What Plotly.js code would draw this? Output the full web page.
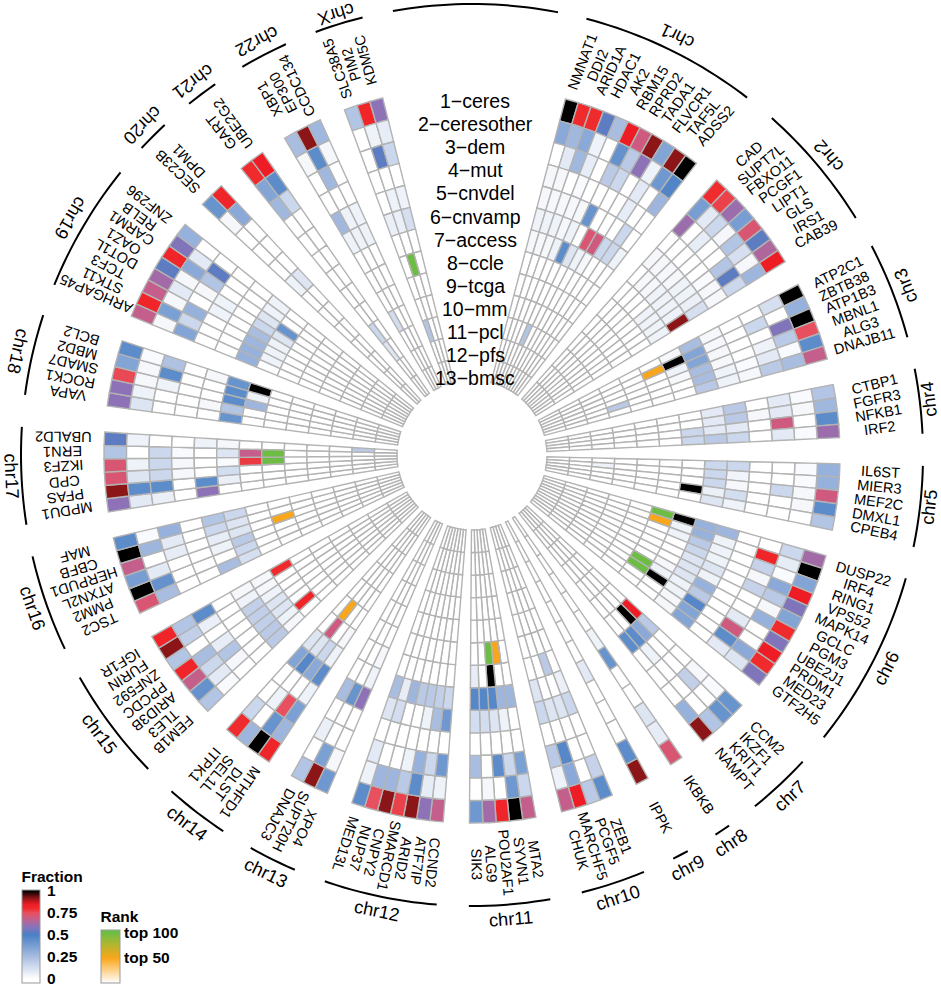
<!DOCTYPE html>
<html><head><meta charset="utf-8">
<script src="https://cdn.plot.ly/plotly-3.0.1.min.js"></script>
<style>html,body{margin:0;padding:0;background:#fff}</style></head>
<body><div id="chart" style="width:941px;height:987px"></div>
<script>
const trackNames = ["1\u2212ceres","2\u2212ceresother","3\u2212dem","4\u2212mut","5\u2212cnvdel","6\u2212cnvamp","7\u2212access","8\u2212ccle","9\u2212tcga","10\u2212mm","11\u2212pcl","12\u2212pfs","13\u2212bmsc"];
const chrNames = ["chr1","chr2","chr3","chr4","chr5","chr6","chr7","chr8","chr9","chr10","chr11","chr12","chr13","chr14","chr15","chr16","chr17","chr18","chr19","chr20","chr21","chr22","chrX"];
const chrGenes = [
["NMNAT1","DDI2","ARID1A","HDAC1","AK2","RBM15","RPRD2","TADA1","FLVCR1","TAF5L","ADSS2"],
["CAD","SUPT7L","FBXO11","PCGF1","LIPT1","GLS","IRS1","CAB39"],
["ATP2C1","ZBTB38","ATP1B3","MBNL1","ALG3","DNAJB11"],
["CTBP1","FGFR3","NFKB1","IRF2"],
["IL6ST","MIER3","MEF2C","DMXL1","CPEB4"],
["DUSP22","IRF4","RING1","VPS52","MAPK14","GCLC","PGM3","UBE2J1","PRDM1","MED23","GTF2H5"],
["CCM2","IKZF1","KRIT1","NAMPT"],["IKBKB"],["IPPK"],
["ZEB1","PCGF5","MARCHF5","CHUK"],
["MTA2","SYVN1","POU2AF1","ALG9","SIK3"],
["CCND2","ATF7IP","ARID2","SMARCD1","CNPY2","NUP37","MED13L"],
["XPO4","SUPT20H","DNAJC3"],
["MTHFD1","DLST","SEL1L","ITPK1"],
["FEM1B","TLE3","ARID3B","PPCDC","ZNF592","FURIN","IGF1R"],
["TSC2","PMM2","ATXN2L","HERPUD1","CBFB","MAF"],
["MPDU1","PFAS","CPD","IKZF3","ERN1","UBALD2"],
["VAPA","ROCK1","SMAD7","MBD2","BCL2"],
["ARHGAP45","STK11","TCF3","DOT1L","OAZ1","CARM1","RELB","ZNF296"],
["SEC23B","DPM1"],["GART","UBE2G2"],["XBP1","EP300","CCDC134"],["SLC38A5","PIM2","KDM5C"]];
// one line per gene, tracks 1..13, in gene order
const fraction = [
[1,.33,0,.03,.03,.05,.03,0,0,0,0,0,0],[.8,.27,.08,.03,.03,.05,.03,0,0,0,0,0,0],[.8,.33,.27,0,.03,.05,.03,0,0,0,0,0,0],[.53,.05,.07,.02,.03,.03,.05,0,0,0,0,0,0],[.25,0,0,0,.03,.05,.45,0,0,0,.22,0,0],[.85,.43,.2,0,.42,0,.1,0,0,0,0,0,0],[.7,.2,.15,0,0,.72,.05,0,0,0,0,0,0],[.92,.6,0,0,0,.7,.03,0,0,0,0,0,0],[.35,.05,.08,.07,0,.15,0,0,0,0,0,0,0],[.92,.4,0,0,.15,.15,0,0,0,0,0,0,0],[1,.48,.28,0,0,.05,0,0,0,0,0,0,0],
[.8,.38,.62,0,.03,0,0,0,0,0,0,0,0],[.77,.08,0,0,.03,.03,0,0,0,0,0,0,0],[.62,.15,.07,0,.03,.03,0,0,0,0,0,0,0],[.38,.03,0,0,.03,.05,0,0,0,0,0,0,0],[.72,.22,0,0,.05,.05,.05,0,0,0,0,0,0],[.53,.12,.22,.02,.05,.05,.05,0,0,0,0,0,0],[.65,.03,.53,.03,.06,.05,.05,0,0,0,0,0,0],[.85,.28,.15,.03,.12,.92,.05,0,0,0,0,0,0],
[1,.12,0,0,.03,.25,.03,0,0,0,0,0,0],[.3,0,.15,0,.03,.35,1,0,0,0,0,0,0],[1,.58,0,0,.03,.35,.05,0,0,0,0,0,0],[.75,.2,.05,0,.03,.25,.03,0,0,0,0,0,0],[.45,.02,.08,.02,.05,.25,0,0,0,.2,0,0,0],[.68,.25,.2,.03,.05,.2,0,0,0,0,0,0,0],
[.22,.02,.08,0,.2,.08,0,0,0,0,0,0,0],[.27,.03,.08,.03,.2,.08,0,0,0,0,0,0,0],[.45,0,.7,0,.08,.08,.15,0,0,0,0,0,0],[.62,.02,.08,0,.15,.2,.15,0,0,0,0,0,0],
[.3,.02,0,0,.15,.15,0,0,0,0,0,0,0],[.3,.02,0,0,.04,.15,0,0,0,0,.05,0,0],[.7,.03,.15,0,.03,.15,0,0,0,0,0,0,0],[.45,.03,0,0,.13,.06,1,0,0,0,0,0,0],[.22,0,0,0,.05,.1,0,0,0,0,0,0,0],
[.63,.15,0,0,.28,.3,1,0,0,0,0,0,0],[1,.07,.82,0,.05,.3,.05,0,0,0,0,0,0],[.35,.02,.17,0,.05,.2,.05,0,0,0,0,0,0],[.85,.33,.03,0,.05,.15,0,0,0,0,0,0,0],[.58,.2,.17,0,.1,.1,0,0,0,0,0,0,0],[.35,.03,0,0,.05,.1,0,0,0,0,0,0,0],[.8,.3,0,0,.3,.1,.03,0,0,0,0,0,0],[.58,0,.08,0,.2,.05,.05,0,0,0,0,0,0],[.85,0,.7,0,.47,.05,1,0,0,0,0,0,0],[.8,.33,.45,0,.35,.03,0,0,0,0,0,0,0],[.58,.1,.08,0,.35,.03,0,0,0,0,0,0,0],
[.42,.02,.03,0,0,.2,.85,0,0,0,0,0,0],[.42,0,.18,0,0,.33,1,0,0,0,0,0,0],[.22,0,0,0,.05,.45,0,0,0,0,0,0,0],[.92,.3,0,0,0,.45,0,0,0,0,0,0,0],
[.72,.07,.1,0,0,.42,.05,0,0,0,0,0,0],
[.92,.45,0,0,0,.08,0,0,0,0,0,0,0],
[.45,.17,0,0,.15,.06,0,0,0,0,0,0,0],[.2,0,0,0,.1,0,.2,0,0,0,0,0,0],[.85,.33,.47,0,.1,0,0,0,0,0,0,0,0],[.68,.05,.2,0,.15,.1,0,0,0,0,0,0,0],
[.68,.15,.37,0,0,.28,0,0,0,0,0,0,0],[1,.4,.15,0,.05,.28,0,0,0,0,0,0,0],[.82,0,.45,0,.1,.47,1,0,0,0,0,0,0],[.63,.03,0,0,.13,.47,0,0,0,0,0,0,0],[.4,0,.25,0,.13,.47,.07,0,0,0,0,0,0],
[.68,.05,.4,0,.4,.15,0,0,0,0,0,0,0],[.6,.07,.15,0,.25,.18,0,0,0,0,0,0,0],[.92,.45,.3,0,.05,.2,0,0,0,0,0,0,0],[.77,.2,.05,0,0,.2,0,0,0,0,0,0,0],[.92,.28,0,0,0,.28,0,0,0,0,0,0,0],[.75,.28,0,0,.13,.07,0,0,0,0,0,0,0],[.45,.05,.08,0,.1,.25,0,0,0,0,0,0,0],
[.4,.03,0,0,.6,.05,.03,0,0,0,0,0,0],[.92,.37,0,0,.42,0,0,0,0,0,0,0,0],[.22,0,.06,0,.25,0,0,0,0,0,0,0,0],
[.82,.28,.37,.05,.45,.05,.03,0,0,0,0,0,0],[1,.42,.75,0,.33,.15,0,0,0,0,0,0,0],[.28,0,.05,0,.47,.1,.7,0,0,0,0,0,0],[.8,.15,0,0,.35,.1,0,0,0,0,0,0,0],
[.22,.02,0,0,.2,.03,0,0,0,0,0,0,0],[.43,.08,.03,0,.2,.05,.82,0,0,0,0,0,0],[.68,.15,.22,0,.18,.1,0,0,0,0,0,0,0],[.82,.25,.07,0,.18,.1,0,0,0,0,0,0,0],[.22,0,0,0,.18,.05,0,0,0,0,0,0,0],[.92,.18,.06,0,.05,.03,0,0,0,0,0,0,0],[.82,.22,.45,0,.03,.03,.8,0,0,0,0,0,0],
[.72,.25,0,0,.25,.12,0,0,0,0,0,0,0],[1,.43,0,0,0,.15,0,0,0,0,0,0,0],[.38,.08,0,0,.05,.2,0,0,0,0,0,0,0],[.68,0,.07,0,.07,.1,0,0,0,0,0,0,0],[1,.28,.08,0,.15,.1,0,0,0,0,0,0,0],[.45,.02,.3,0,.22,.15,0,0,0,0,0,0,0],
[.6,.08,.06,0,.6,0,0,0,0,0,0,0,0],[.92,.45,.45,0,.45,.06,0,0,0,0,0,0,0],[.72,.1,.15,.03,0,.13,0,0,0,0,0,0,0],[.72,.05,.15,.03,0,.02,.78,0,0,0,0,0,0],[.22,0,.15,.02,0,.1,.68,0,0,0,0,0,0],[.53,.05,0,0,.05,.03,0,0,0,0,0,.2,0],
[.6,.1,0,0,0,.42,0,0,0,0,0,0,0],[.6,.05,0,0,.03,.22,0,0,0,0,0,0,0],[.76,.03,.05,0,0,.45,.28,0,0,0,0,0,0],[.35,.03,.45,0,0,.45,.05,0,0,0,0,0,0],[.45,.02,.23,0,.03,.42,1,0,0,0,0,0,0],
[.68,.03,.35,0,0,.3,0,0,0,0,0,0,0],[.82,.37,.15,0,0,.3,.05,0,0,0,0,0,0],[.68,.03,.3,0,0,.28,.05,0,0,0,0,0,0],[.63,.08,0,.05,0,.25,.05,0,0,0,0,0,0],[.53,.03,.03,.05,0,.15,.1,0,0,0,0,0,0],[.82,.33,.22,0,0,.1,.42,0,0,0,0,0,0],[.58,.08,.53,0,0,.05,0,0,0,0,0,0,0],[.3,0,0,0,0,.05,0,0,0,0,0,0,0],
[.42,.03,0,0,0,.05,0,0,0,0,0,0,0],[.82,.33,0,0,0,.1,0,0,0,0,0,0,0],
[.8,.35,.27,0,0,0,0,0,0,.15,.1,0,0],[.85,.45,.15,0,0,0,0,0,0,0,0,0,0],
[.25,.03,0,0,.27,.05,0,0,0,.13,0,0,0],[.92,.45,.27,0,.05,.05,0,0,0,0,0,0,0],[.27,.03,0,0,.05,.05,0,0,0,0,0,0,0],
[.22,0,0,0,0,.06,0,0,0,0,.22,0,0],[.82,.05,.53,0,.05,.06,0,0,0,0,0,0,0],[.6,.07,.15,0,.05,.12,0,0,0,0,0,0,0]];
const rankGene = ["DUSP22","IRF4","UBE2J1","PRDM1","POU2AF1","SYVN1","SEL1L","HERPUD1","IKZF3","ERN1","PIM2","ZBTB38"];
const rankTrack = [8,8,8,8,8,8,8,8,8,8,8,8];
const rankValue = [100,50,100,100,100,50,50,50,100,100,100,50];
const fractionTicks = [0,.25,.5,.75,1];
const rankTicks = [50,100];
const rankTickText = ["top 50","top 100"];
const labelTilt = [5,6,0,-4,1,-1,0,0,0,0,0,0,0,0,0,0,-2,0,0,0,0,0,0];

const CX=472, CY=455, W=941, H=987, OUT=368, INNER=75, AXIS=455, ARC=451;
const STEP=(OUT-INNER)/13, GW=2.08, GAP=4.09, START=14.7;
const FONT='"Liberation Sans", Arial, sans-serif';
const geneTheta={}, geneSector={}, sectors=[]; let pos=START;
chrGenes.forEach((gs,i)=>{const a=pos;gs.forEach(g=>{geneTheta[g]=pos+GW/2;geneSector[g]=i;pos+=GW;});sectors.push([a,pos]);pos+=GAP;});
const allGenes=chrGenes.flat();
const thetas=[],bases=[],vals=[];
allGenes.forEach((g,i)=>fraction[i].forEach((v,t)=>{thetas.push(geneTheta[g]);bases.push(OUT-STEP*(t+1));vals.push(v);}));
const cell={color:'#b3b3b3',width:1.4};
const FMIN=-0.047, FMAX=1.012, RMAX=105.8;
const fracStops=[[0,'#ffffff'],[.25,'#a9bde0'],[.5,'#4a80c6'],[.6,'#8d72b8'],[.68,'#c45f8c'],[.75,'#e8505f'],[.8,'#ef2b2e'],[.85,'#ee1c25'],[.92,'#8c1518'],[1,'#000000']];
const fracScale=[[0,'#ffffff'],...fracStops.map(([v,c])=>[(v-FMIN)/(FMAX-FMIN),c]),[1,'#000000']];
const rankScale=[[0,'#ffffff'],[.47,'#faa61a'],[.72,'#b3b52f'],[.95,'#6cbd45'],[1,'#6cbd45']];
const tickFont={family:FONT,size:15.5,weight:700,color:'#000'};
const traces=[{type:'barpolar',theta:thetas,base:bases,r:thetas.map(()=>STEP),width:GW,hoverinfo:'skip',
 marker:{color:vals,colorscale:fracScale,cmin:FMIN,cmax:FMAX,line:cell,
  colorbar:{x:22/W,xanchor:'left',y:1-868/H,yanchor:'top',lenmode:'pixels',len:115,thicknessmode:'pixels',thickness:18,xpad:0,ypad:0,
   outlinecolor:'#999',outlinewidth:1,borderwidth:0,ticks:'outside',ticklen:4,tickcolor:'rgba(0,0,0,0)',tickfont:tickFont,ticklabeloverflow:'allow',tickvals:fractionTicks,ticktext:fractionTicks.map(String),
   title:{text:'Fraction',side:'top',font:tickFont}}}},
 {type:'barpolar',theta:rankGene.map(g=>geneTheta[g]),base:rankTrack.map(t=>OUT-STEP*t),r:rankGene.map(()=>STEP),width:GW,hoverinfo:'skip',
 marker:{color:rankValue,colorscale:rankScale,cmin:0,cmax:RMAX,line:cell,
  colorbar:{x:101/W,xanchor:'left',y:1-908/H,yanchor:'top',lenmode:'pixels',len:75,thicknessmode:'pixels',thickness:19,xpad:0,ypad:0,
   outlinecolor:'#999',outlinewidth:1,borderwidth:0,ticks:'',tickfont:tickFont,tickvals:rankTicks,ticktext:rankTickText,
   title:{text:'Rank',side:'top',font:tickFont}}}}];
const arcT=[],arcR=[];
[...sectors,[349.9,371]].forEach(([a,b])=>{for(let t=a;;t+=Math.min(1,b-t)){arcT.push(t%360);arcR.push(ARC);if(t>=b)break;}arcT.push(null);arcR.push(null);});
traces.push({type:'scatterpolar',mode:'lines',theta:arcT,r:arcR,line:{color:'#000',width:2},hoverinfo:'skip',showlegend:false,connectgaps:false});
const ann=[];
const at=(r,th)=>{const a=th*Math.PI/180;return{x:(CX+r*Math.sin(a))/W,y:1-(CY-r*Math.cos(a))/H};};
allGenes.forEach(g=>{const th=geneTheta[g];ann.push({...at(409,th),xref:'paper',yref:'paper',text:g,showarrow:false,textangle:th-90+labelTilt[geneSector[g]],xanchor:'center',yanchor:'middle',font:{family:FONT,size:14.6,color:'#000'}});});
sectors.forEach(([a,b],i)=>{const th=(a+b)/2;const rad=th*Math.PI/180;const sn=Math.sin(rad);const s=Math.abs(sn);const c=Math.cos(rad);
 const r=Math.min(466,(sn>0?457:461)/Math.max(s,.01),c>0?441/c:466);
 ann.push({...at(r,th),xref:'paper',yref:'paper',text:chrNames[i],showarrow:false,textangle:th+180,xanchor:'center',yanchor:'middle',font:{family:FONT,size:18.2,color:'#000'}});});
trackNames.forEach((t,i)=>ann.push({x:475/W,y:1-(101+23.1*i)/H,xref:'paper',yref:'paper',text:t,showarrow:false,xanchor:'center',yanchor:'middle',font:{family:FONT,size:19.5,color:'#000'}}));
const layout={width:W,height:H,margin:{l:0,r:0,t:0,b:0},paper_bgcolor:'#fff',showlegend:false,annotations:ann,
 polar:{domain:{x:[(CX-AXIS)/W,(CX+AXIS)/W],y:[1-(CY+AXIS)/H,1-(CY-AXIS)/H]},bgcolor:'#fff',barmode:'overlay',bargap:0,
  radialaxis:{visible:false,range:[0,AXIS]},angularaxis:{visible:false,direction:'clockwise',rotation:90,thetaunit:'degrees'}}};
Plotly.newPlot('chart',traces,layout,{displayModeBar:false,staticPlot:true});
</script></body></html>
